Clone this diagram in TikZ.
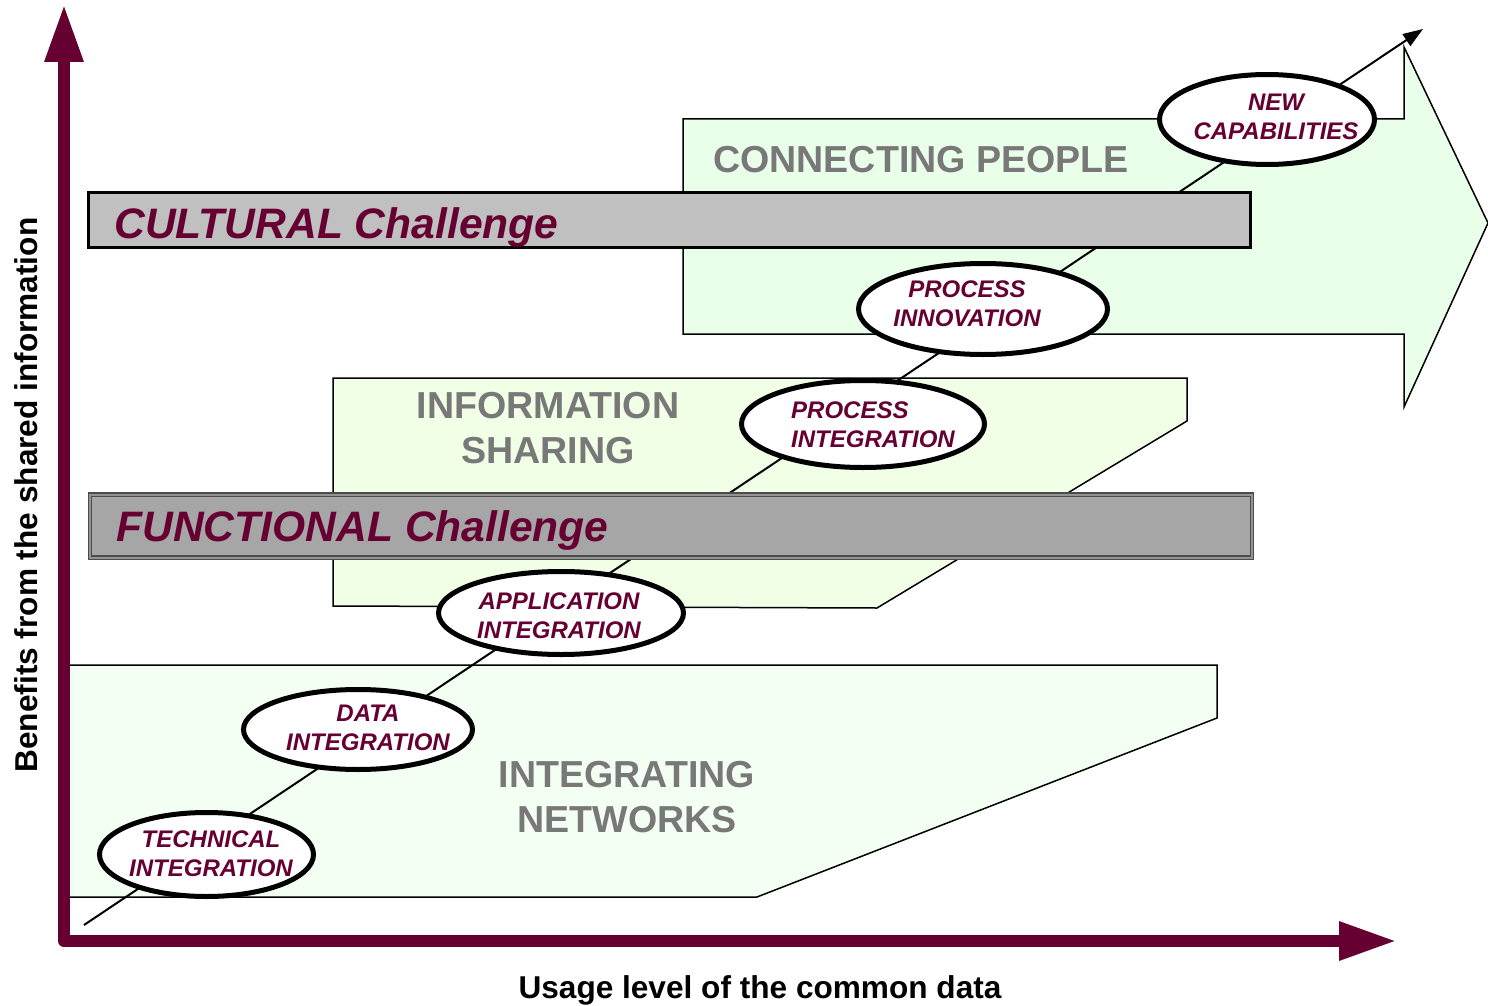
\documentclass[tikz,border=0pt]{standalone}
\usepackage{fontspec}
\setmainfont{Liberation Sans}
\usetikzlibrary{shapes.geometric,arrows.meta}

\definecolor{maroon}{RGB}{102,0,51}
\definecolor{levelgray}{RGB}{120,120,120}
\definecolor{netgreen}{RGB}{242,255,242}
\definecolor{infogreen}{RGB}{240,255,230}
\definecolor{peoplegreen}{RGB}{234,255,234}
\definecolor{cultgray}{RGB}{192,192,192}
\definecolor{funcgray}{RGB}{166,166,166}

\begin{document}
\begin{tikzpicture}[x=0.5pt,y=-0.5pt,
    stage/.style={draw,ellipse,fill=white,line width=2.5pt,inner sep=0pt},
    stagetext/.style={text=maroon,font=\fontsize{12}{14.5}\selectfont\bfseries\itshape,align=center,inner sep=0pt},
    level/.style={text=levelgray,font=\fontsize{18.8}{22.5}\selectfont\bfseries,align=center,inner sep=0pt},
    area/.style={draw,line width=0.75pt,line join=miter},
    challenge/.style={text=maroon,font=\fontsize{21.3}{25}\selectfont\bfseries\itshape,anchor=base west,inner sep=0pt},
    axislabel/.style={font=\fontsize{15.8}{19}\selectfont\bfseries,inner sep=0pt}]
    \useasboundingbox (0,0) rectangle (1488,1006);

    % the three levels
    \draw[area,fill=netgreen] (68,665) -- (1217,665) -- (1217,718) -- (757,897) -- (68,897) -- cycle;
    \draw[area,fill=infogreen] (333,378) -- (1187,378) -- (1187,421) -- (877,608) -- (333,606) -- cycle;
    \draw[area,fill=peoplegreen] (683,119) -- (1404,119) -- (1404,47) -- (1488,223) -- (1404,407) -- (1404,334) -- (683,334) -- cycle;

    \node[level] (net) at (627,797) {INTEGRATING\\NETWORKS};
    \node[level] (info) at (548,428) {INFORMATION\\SHARING};
    \node[level] (people) at (921,160) {CONNECTING PEOPLE};

    % growth line
    \coordinate (start) at (84,925);
    \coordinate (tip) at (1423,29);
    \draw[line width=1pt,-{Triangle[length=10pt,width=7pt]}] (start) -- (tip);

    % challenges
    \node[draw,line width=1.7pt,fill=cultgray,minimum width=581pt,minimum height=27.3pt] (cultural) at (669.5,220) {};
    \node[challenge] (culturaltext) at (114,238) {CULTURAL Challenge};
    \node[draw=black!70,line width=0.6pt,double=gray!85,double distance=1pt,fill=funcgray,minimum width=581pt,minimum height=31.5pt] (functional) at (671,526) {};
    \node[challenge] (functionaltext) at (116,541) {FUNCTIONAL Challenge};

    % stages
    \node[stage,minimum width=107pt,minimum height=42pt] (technical) at (206.5,854.5) {};
    \node[stagetext] (technicaltext) at (211,854) {TECHNICAL\\INTEGRATION};
    \node[stage,minimum width=114.5pt,minimum height=40pt] (data) at (358,729.5) {};
    \node[stagetext] (datatext) at (368,728) {DATA\\INTEGRATION};
    \node[stage,minimum width=122.5pt,minimum height=41.5pt] (application) at (561,613) {};
    \node[stagetext] (applicationtext) at (559,616) {APPLICATION\\INTEGRATION};
    \node[stage,minimum width=121.5pt,minimum height=43.5pt] (procint) at (863,424) {};
    \node[stagetext,align=left] (procinttext) at (873,425) {PROCESS\\INTEGRATION};
    \node[stage,minimum width=124.5pt,minimum height=45.5pt] (procinn) at (983,309) {};
    \node[stagetext] (procinntext) at (967,304) {PROCESS\\INNOVATION};
    \node[stage,minimum width=107.5pt,minimum height=45pt] (newcap) at (1267,119.5) {};
    \node[stagetext] (newcaptext) at (1276,117) {NEW\\CAPABILITIES};

    % axes
    \draw[maroon,line width=6pt,line join=round,{Triangle[length=29pt,width=18pt]}-{Triangle[length=29pt,width=18pt]}] (64,4) -- (64,941) -- (1397,941);
    \node[axislabel,rotate=90] (benefits) at (26,495) {Benefits from the shared information};
    \node[axislabel,anchor=base] (usage) at (760,998) {Usage level of the common data};
\end{tikzpicture}
\end{document}
